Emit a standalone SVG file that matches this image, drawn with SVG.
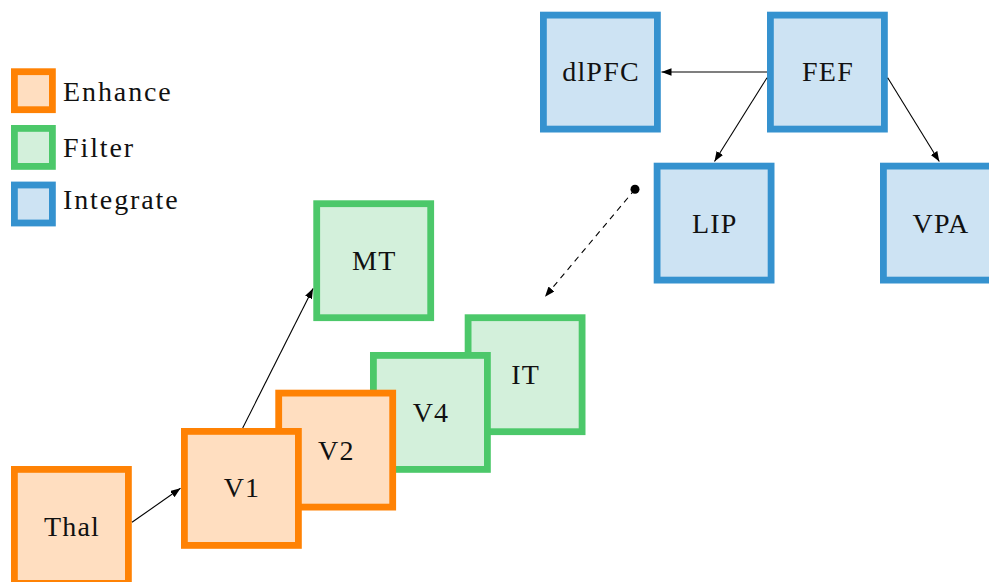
<svg xmlns="http://www.w3.org/2000/svg" width="989" height="582" viewBox="0 0 989 582">
<defs>
<style>
.box{stroke-width:6.8}
.enh{fill:#ffdec0;stroke:#ff8204}
.fil{fill:#d3f0db;stroke:#4cc86a}
.int{fill:#cde3f3;stroke:#3592cf}
.lbl{font-family:"Liberation Serif",serif;font-size:28px;letter-spacing:1.2px;fill:#111}
.leg{letter-spacing:1.9px}
.c{text-anchor:middle}
.edge{stroke:#000;stroke-width:1.1;fill:none}
</style>
<marker id="arr" markerUnits="userSpaceOnUse" markerWidth="12" markerHeight="10" refX="10" refY="3.8" orient="auto">
<path d="M0,0 L10,3.8 L0,7.6 z" fill="#000"/>
</marker>
</defs>
<rect width="989" height="582" fill="#fff"/>
<g id="legend">
<rect class="box enh" x="14.4" y="71.7" width="38" height="38"/>
<text class="lbl leg" x="63" y="100.5">Enhance</text>
<rect class="box fil" x="14.4" y="128.4" width="38" height="38"/>
<text class="lbl leg" x="63" y="157">Filter</text>
<rect class="box int" x="14.4" y="185" width="38" height="38"/>
<text class="lbl leg" x="63" y="208.5">Integrate</text>
</g>
<g id="Thal"><rect class="box enh" x="14.4" y="469.4" width="114" height="114"/><text class="lbl c" x="72" y="536">Thal</text></g>
<g id="MT"><rect class="box fil" x="316.7" y="203.7" width="114" height="114"/><text class="lbl c" x="374.3" y="270">MT</text></g>
<g id="IT"><rect class="box fil" x="468.1" y="317.7" width="114" height="114"/><text class="lbl c" x="525.7" y="384.2">IT</text></g>
<g id="V4"><rect class="box fil" x="373.4" y="355.4" width="114" height="114"/><text class="lbl c" x="431" y="421.9">V4</text></g>
<g id="V2"><rect class="box enh" x="278.7" y="393.1" width="114" height="114"/><text class="lbl c" x="336.3" y="459.6">V2</text></g>
<g id="V1"><rect class="box enh" x="184.4" y="431.4" width="114" height="114"/><text class="lbl c" x="242" y="497.4">V1</text></g>
<g id="dlPFC"><rect class="box int" x="543.4" y="15.1" width="114" height="114"/><text class="lbl c" x="601" y="81.2">dlPFC</text></g>
<g id="FEF"><rect class="box int" x="770.4" y="15.1" width="114" height="114"/><text class="lbl c" x="828" y="81.2">FEF</text></g>
<g id="LIP"><rect class="box int" x="657.1" y="166.1" width="114" height="114"/><text class="lbl c" x="714.7" y="232.6">LIP</text></g>
<g id="VPA"><rect class="box int" x="883.4" y="166.1" width="114" height="114"/><text class="lbl c" x="941" y="232.6">VPA</text></g>
<g id="connectors">
<line class="edge" x1="132" y1="522.3" x2="180.5" y2="488.3" marker-end="url(#arr)"/>
<line class="edge" x1="242.7" y1="428" x2="313" y2="288.5" marker-end="url(#arr)"/>
<line class="edge" x1="767" y1="72" x2="661.5" y2="72" marker-end="url(#arr)"/>
<line class="edge" x1="767" y1="77.7" x2="714.5" y2="161.5" marker-end="url(#arr)"/>
<line class="edge" x1="887.7" y1="77.7" x2="939.3" y2="161.5" marker-end="url(#arr)"/>
<line class="edge" x1="635" y1="189.3" x2="545" y2="296.7" stroke-dasharray="6,5" marker-end="url(#arr)"/>
<circle cx="635" cy="189.3" r="4.5" fill="#000"/>
</g>
</svg>
